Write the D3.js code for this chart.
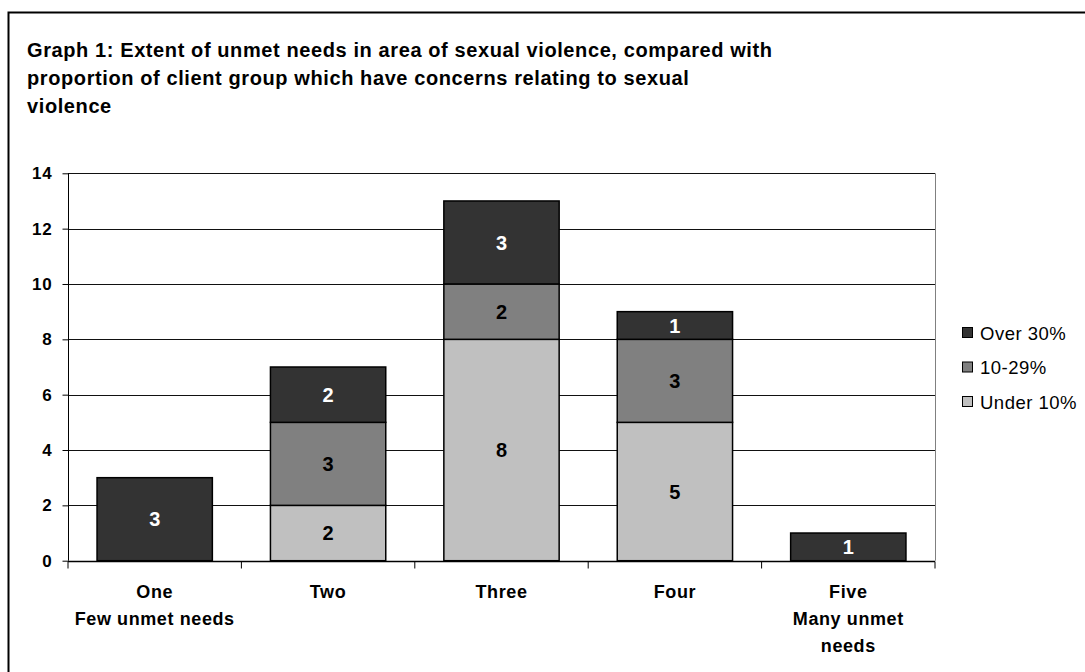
<!DOCTYPE html>
<html><head><meta charset="utf-8">
<script src="https://cdn.jsdelivr.net/npm/d3@7"></script>
<style>body{margin:0;background:#fff}svg{display:block}text{font-family:"Liberation Sans",Arial,sans-serif}</style>
</head><body>
<svg id="c" width="1085" height="672"></svg>
<script>
const categories = ["One|Few unmet needs","Two","Three","Four","Five|Many unmet|needs"];
const seriesNames = ["Under 10%","10-29%","Over 30%"];
const under10 = [0,2,8,5,0];
const mid1029 = [0,3,2,3,0];
const over30 = [3,2,3,1,1];
const yTicks = [0,2,4,6,8,10,12,14];
const titleLines = ["Graph 1: Extent of unmet needs in area of sexual violence, compared with","proportion of client group which have concerns relating to sexual","violence"];
const colors = {"Under 10%":"#c0c0c0","10-29%":"#808080","Over 30%":"#333333"};

const svg = d3.select("#c");
svg.append("rect").attr("x",8.5).attr("y",12.5).attr("width",1100).attr("height",700)
  .attr("fill","none").attr("stroke","#000").attr("stroke-width",2);

svg.append("g").selectAll("text").data(titleLines).join("text")
  .attr("x",27).attr("y",(d,i)=>57+i*28).style("font-size","20px").attr("font-weight","bold")
  .attr("letter-spacing",0.6).text(d=>d);

const L=68,R=935,T=173.3,B=560.7;
const x = d3.scaleBand().domain(categories).range([L,R]).paddingInner(0.335).paddingOuter(0.1675);
const y = d3.scaleLinear().domain([0,14]).range([B,T]);

// gridlines
svg.append("g").selectAll("line").data(yTicks).join("line")
  .attr("x1",L).attr("x2",R).attr("y1",d=>Math.round(y(d))+0.5).attr("y2",d=>Math.round(y(d))+0.5)
  .attr("stroke","#111").attr("stroke-width",1);
svg.append("line").attr("x1",R+0.5).attr("x2",R+0.5).attr("y1",T).attr("y2",B).attr("stroke","#808080");

const data = categories.map((c,i)=>({cat:c,"Under 10%":under10[i],"10-29%":mid1029[i],"Over 30%":over30[i]}));
const stack = d3.stack().keys(seriesNames)(data);
const g = svg.append("g");
stack.forEach(s=>{
  s.forEach(d=>{
    const v=d[1]-d[0]; if(v<=0) return;
    const xx=x(d.data.cat), y0=y(d[0]), y1=y(d[1]);
    g.append("rect").attr("x",xx).attr("y",y1).attr("width",x.bandwidth()).attr("height",y0-y1)
      .attr("fill",colors[s.key]).attr("stroke","#000").attr("stroke-width",1.5);
    g.append("text").attr("x",xx+x.bandwidth()/2).attr("y",(y0+y1)/2).attr("dy","0.36em")
      .attr("text-anchor","middle").style("font-size","20px").attr("font-weight","bold")
      .attr("fill",s.key==="Over 30%"?"#fff":"#000").text(v);
  });
});

// y axis
const ya = svg.append("g").attr("transform",`translate(${L+0.5},0)`)
  .call(d3.axisLeft(y).tickValues(yTicks).tickSize(6).tickPadding(10).tickFormat(d3.format("d")));
ya.select(".domain").attr("stroke","#000").attr("d",`M0,${T}V${B}`);
ya.selectAll("text").style("font-size","17px").attr("font-weight","bold").attr("fill","#000")
  .attr("letter-spacing",0.8).style("font-family","'Liberation Sans',Arial,sans-serif");

// x axis
const xa = svg.append("g").attr("transform",`translate(0,${Math.round(B)+0.5})`);
xa.append("line").attr("x1",L).attr("x2",R).attr("stroke","#000").attr("stroke-width",1.5);
const step = x.step();
xa.selectAll("line.t").data(d3.range(categories.length+1)).join("line").attr("class","t")
  .attr("x1",i=>L+i*step).attr("x2",i=>L+i*step).attr("y1",0).attr("y2",7).attr("stroke","#000");
categories.forEach(c=>{
  const t = xa.append("text").attr("text-anchor","middle").style("font-size","18px").attr("font-weight","bold").attr("letter-spacing",0.6);
  c.split("|").forEach((ln,j)=>{
    t.append("tspan").attr("x",x(c)+x.bandwidth()/2).attr("y",36+j*27).text(ln);
  });
});

// legend
const leg = svg.append("g");
["Over 30%","10-29%","Under 10%"].forEach((k,i)=>{
  const cy = 333+i*34.5;
  leg.append("rect").attr("x",962.5).attr("y",cy-5.5).attr("width",10).attr("height",10)
    .attr("fill",colors[k]).attr("stroke","#000");
  leg.append("text").attr("x",980).attr("y",cy).attr("dy","0.36em").style("font-size","18.5px").attr("letter-spacing",0.5).text(k);
});
</script>
</body></html>
